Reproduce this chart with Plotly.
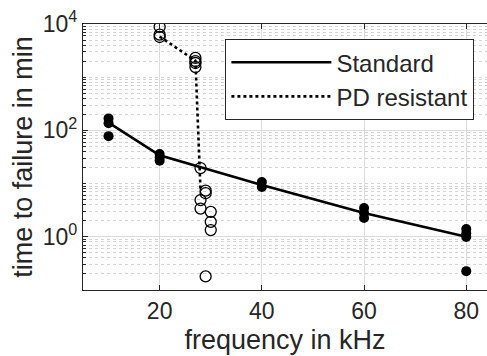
import plotly.graph_objects as go

# ---- data ----
std_x = [10, 10, 10, 20, 20, 20, 40, 40, 60, 60, 60, 80, 80, 80, 80]
std_y = [168, 137, 78, 36, 31, 27, 10.7, 8.6, 3.46, 2.79, 2.25, 1.40, 1.17, 0.99, 0.226]
std_line_x = [10, 20, 40, 60, 80]
std_line_y = [140, 34, 9.4, 2.8, 1.0]

pd_x = [20, 20, 20, 27, 27, 27, 27, 28, 28, 28, 29, 29, 29, 30, 30, 30]
pd_y = [8800, 6300, 5700, 2300, 2000, 1850, 1550, 19.6, 4.9, 3.4, 7.4, 6.6, 0.18, 2.95, 1.91, 1.34]
pd_line_x = [20, 27, 28]
pd_line_y = [5800, 2050, 7.5]

x_ticks = [20, 40, 60, 80]
y_ticks = [1, 100, 10000]
y_tick_labels = ["10<sup>0</sup>", "10<sup>2</sup>", "10<sup>4</sup>"]
y_minor = [m * 10 ** e for e in range(-1, 4) for m in range(1, 10) if not (m == 1 and e in (0, 2))]

FONT = "Liberation Sans"
TXT = "#262626"

fig = go.Figure()
fig.add_trace(go.Scatter(x=std_line_x, y=std_line_y, mode="lines", name="Standard",
                         line=dict(color="black", width=2.6)))
fig.add_trace(go.Scatter(x=pd_line_x, y=pd_line_y, mode="lines", name="PD resistant",
                         line=dict(color="black", width=2.6, dash="dot")))
fig.add_trace(go.Scatter(x=std_x, y=std_y, mode="markers", showlegend=False,
                         marker=dict(symbol="circle", size=10, color="black",
                                     line=dict(width=0))))
fig.add_trace(go.Scatter(x=pd_x, y=pd_y, mode="markers", showlegend=False,
                         marker=dict(symbol="circle-open", size=11, color="black",
                                     line=dict(width=1.3))))
# invisible trace on top axis to activate it
fig.add_trace(go.Scatter(x=[None], y=[None], xaxis="x2", showlegend=False, hoverinfo="skip"))

xr = [5, 84.06]
fig.update_layout(
    width=487, height=356,
    margin=dict(l=83, r=0, t=24, b=66),
    paper_bgcolor="white", plot_bgcolor="white",
    font=dict(family=FONT, size=23, color=TXT),
    showlegend=True,
    legend=dict(x=0.352, y=0.944, xanchor="left", yanchor="top",
                bgcolor="white", bordercolor="#262626", borderwidth=1.2,
                font=dict(size=24, color=TXT), itemwidth=100,
                tracegroupgap=0),
    xaxis=dict(range=xr, tickvals=x_ticks, ticks="inside", ticklen=5,
               tickcolor=TXT, showline=True, linecolor=TXT, linewidth=1.2,
               showgrid=True, gridcolor="#dcdcdc", gridwidth=1,
               zeroline=False, tickfont=dict(size=23, color=TXT),
               title=dict(text="frequency in kHz", font=dict(size=27, color=TXT), standoff=7)),
    xaxis2=dict(range=xr, overlaying="x", side="top", tickvals=x_ticks,
                ticks="inside", ticklen=5, tickcolor=TXT, showticklabels=False,
                showline=True, linecolor=TXT, linewidth=1.2, showgrid=False, zeroline=False),
    yaxis=dict(type="log", range=[-1, 4], tickvals=y_ticks, ticktext=y_tick_labels,
               ticks="inside", ticklen=5,
               tickcolor=TXT, showline=True, linecolor=TXT,
               linewidth=1.2, showgrid=True, gridcolor="#dcdcdc", gridwidth=1,
               zeroline=False, tickfont=dict(size=23, color=TXT),
               minor=dict(tickvals=y_minor, ticks="inside", ticklen=3, tickcolor=TXT,
                          showgrid=True, gridcolor="#d4d4d4", griddash="dot", gridwidth=1),
               title=dict(text="time to failure in min", font=dict(size=27, color=TXT), standoff=2)),
)
fig.write_html("out.html")
